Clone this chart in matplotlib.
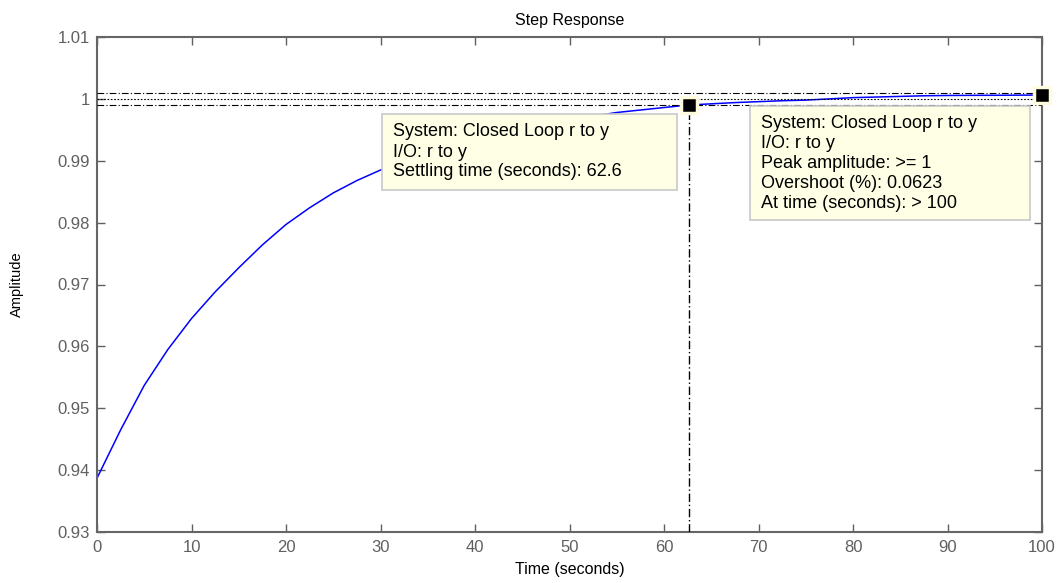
import matplotlib
matplotlib.use('Agg')
import matplotlib.pyplot as plt
from matplotlib.patches import Rectangle

plt.rcParams['font.family'] = ['Liberation Sans', 'DejaVu Sans']

# ---- data ----
time_s = [0, 2.5, 5, 7.5, 10, 12.5, 15, 17.5, 20, 22.5, 25, 27.5, 30, 32.5, 35,
          37.5, 40, 42.5, 45, 47.5, 50, 52.5, 55, 57.5, 60, 62.5, 65, 67.5, 70,
          72.5, 75, 77.5, 80, 82.5, 85, 87.5, 90, 92.5, 95, 97.5, 100]
amplitude = [0.9387, 0.9465, 0.9537, 0.9595, 0.9645, 0.9688, 0.9727, 0.9764,
             0.9797, 0.9824, 0.9848, 0.9868, 0.9885, 0.9900, 0.9913, 0.9925,
             0.9935, 0.9944, 0.9952, 0.9959, 0.9966, 0.9972, 0.9978, 0.9982,
             0.9986, 0.9990, 0.9992, 0.9994, 0.99955, 0.9997, 0.9998, 1.0000,
             1.0002, 1.0003, 1.0004, 1.0005, 1.00055, 1.00057, 1.00058, 1.0006,
             1.00062]
final_value = 1.0
settle_band = 0.001
settle_time = 62.6
settle_amp = 0.999
peak_time = 100
peak_amp = 1.000623

x_ticks = [0, 10, 20, 30, 40, 50, 60, 70, 80, 90, 100]
y_ticks = [0.93, 0.94, 0.95, 0.96, 0.97, 0.98, 0.99, 1.00, 1.01]
y_tick_labels = ['0.93', '0.94', '0.95', '0.96', '0.97', '0.98', '0.99', '1', '1.01']

tip1_lines = ['System: Closed Loop r to y', 'I/O: r to y',
              'Settling time (seconds): 62.6']
tip2_lines = ['System: Closed Loop r to y', 'I/O: r to y',
              'Peak amplitude: >= 1', 'Overshoot (%): 0.0623',
              'At time (seconds): > 100']

W, H = 1062, 583
fig = plt.figure(figsize=(W / 100, H / 100), dpi=100)
ax = fig.add_axes([97 / W, 1 - 532 / H, 945 / W, 495 / H])

grey = '#606060'
ax.plot(time_s, amplitude, color='#0000ff', lw=1.1, zorder=2)

# settling band and final value lines
dd = (6, 2, 1, 2)
ax.axhline(final_value + settle_band, color='black', lw=0.8, ls='-.', dashes=dd, zorder=3)
ax.axhline(final_value - settle_band, color='black', lw=0.8, ls='-.', dashes=dd, zorder=3)
ax.axhline(final_value, color='black', lw=0.8, ls=':', dashes=(1.5, 1.5), zorder=3)
ax.plot([settle_time, settle_time], [0.93, settle_amp], color='black', lw=1.0,
        ls='-.', dashes=dd, zorder=3)

for tx, ty in [(settle_time, settle_amp), (peak_time, peak_amp)]:
    ax.plot([tx], [ty], marker='s', ms=12, mfc='black', mec='#fffbe0', mew=2.5,
            clip_on=False, zorder=6)

ax.set_xlim(0, 100)
ax.set_ylim(0.93, 1.01)
ax.set_xticks(x_ticks)
ax.set_yticks(y_ticks)
ax.set_yticklabels(y_tick_labels)
ax.tick_params(direction='in', length=6, width=1, colors=grey, labelsize=12,
               top=True, right=True)
ax.tick_params(axis='x', pad=6)
ax.tick_params(axis='y', pad=5)
for s in ax.spines.values():
    s.set_color('#666666')
    s.set_linewidth(1.5)

ax.set_title('Step Response', fontsize=11.5, pad=9)
ax.set_xlabel('Time (seconds)', fontsize=11.5, labelpad=5)
ax.set_ylabel('Amplitude', fontsize=10.5)
ax.yaxis.set_label_coords((24 - 97) / 945, 0.5)

def tip(x0, y0, x1, y1, tx, baselines, lines):
    fig.patches.append(Rectangle((x0 / W, 1 - y1 / H), (x1 - x0) / W, (y1 - y0) / H,
                                 transform=fig.transFigure, facecolor='#ffffe6',
                                 edgecolor='#c8c8c8', lw=1.2, zorder=5))
    for b, t in zip(baselines, lines):
        fig.text(tx / W, 1 - b / H, t, fontsize=13, va='baseline', ha='left',
                 color='black', zorder=6)

tip(382, 114, 677, 190, 393, [136.5, 156.5, 176.5], tip1_lines)
tip(750, 106, 1030, 220, 761, [127.5, 147.7, 167.9, 188.1, 208.3], tip2_lines)

fig.savefig('out.png', dpi=100)
